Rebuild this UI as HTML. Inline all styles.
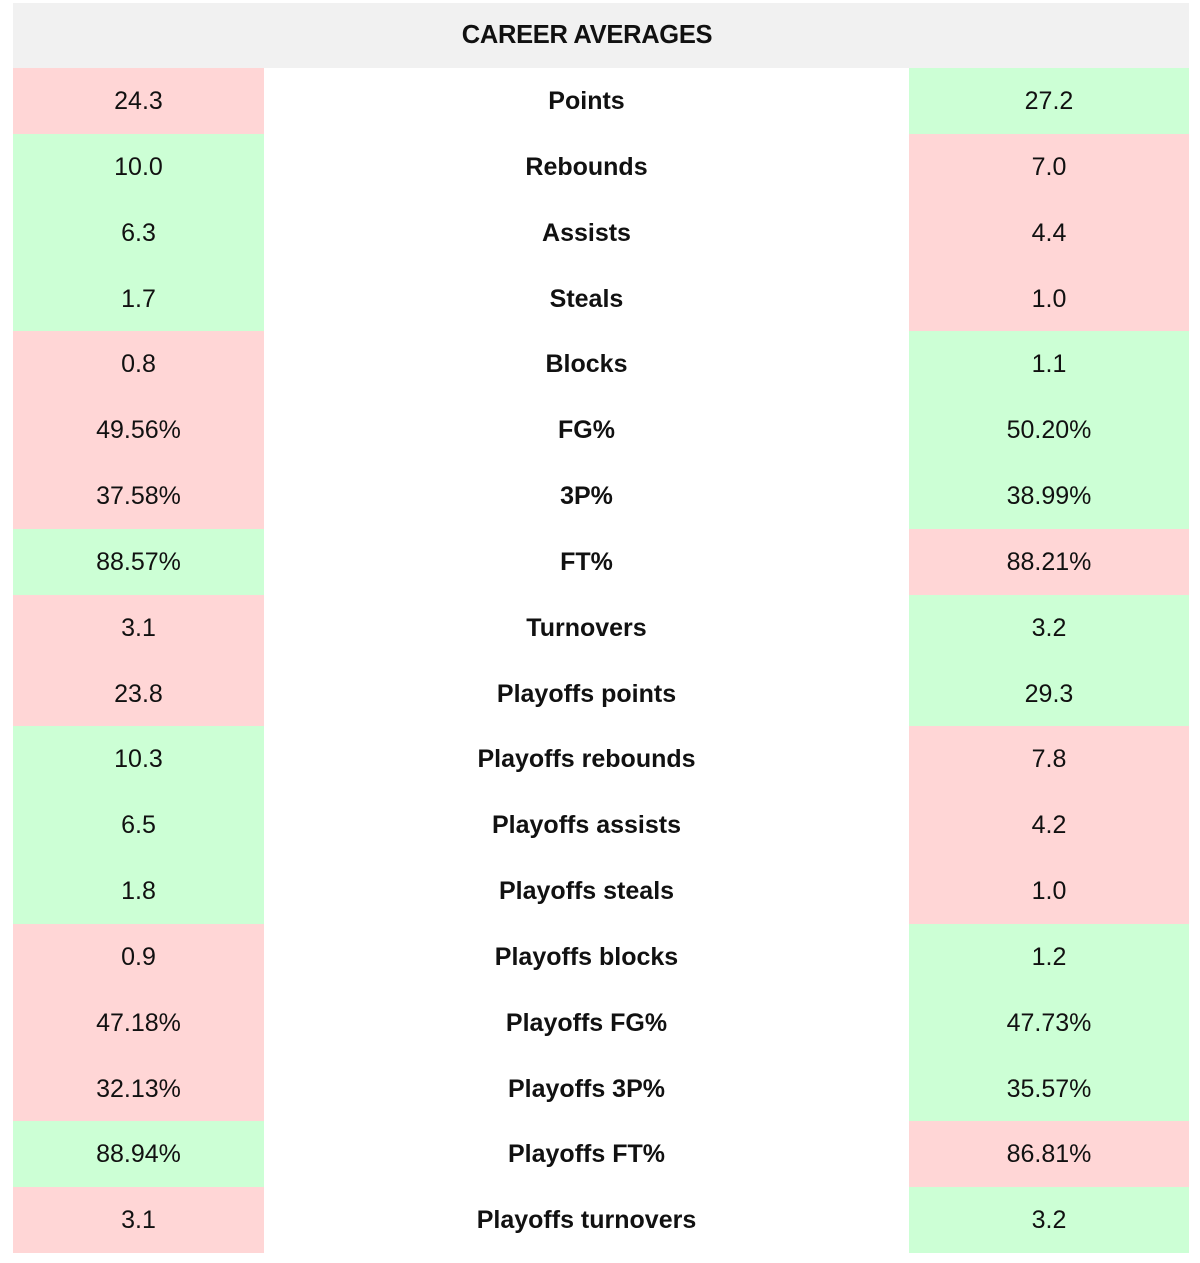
<!DOCTYPE html>
<html><head><style>
body{margin:0;width:1200px;height:1263px;background:#fff;position:relative;font-family:"Liberation Sans",Arial,sans-serif;color:#111;overflow:hidden}
.h{position:absolute;left:13px;top:3px;width:1176px;height:65px;background:#f1f1f1;display:flex;align-items:center;justify-content:center;font-size:25.5px;font-weight:bold;letter-spacing:-0.3px;padding-right:28px;box-sizing:border-box}
.c{position:absolute;display:flex;align-items:center;justify-content:center;font-size:25px;padding-top:1px;box-sizing:border-box}
.l{left:13px;width:251px}.m{left:264px;width:645px;font-weight:bold}.r{left:909px;width:280px}
.p{background:#ffd6d6}.g{background:#ccffd5}
</style></head><body>
<div class="h">CAREER AVERAGES</div>
<div id="t"></div>
<script>
var d=[["24.3","Points","27.2",0],["10.0","Rebounds","7.0",1],["6.3","Assists","4.4",1],["1.7","Steals","1.0",1],["0.8","Blocks","1.1",0],["49.56%","FG%","50.20%",0],["37.58%","3P%","38.99%",0],["88.57%","FT%","88.21%",1],["3.1","Turnovers","3.2",0],["23.8","Playoffs points","29.3",0],["10.3","Playoffs rebounds","7.8",1],["6.5","Playoffs assists","4.2",1],["1.8","Playoffs steals","1.0",1],["0.9","Playoffs blocks","1.2",0],["47.18%","Playoffs FG%","47.73%",0],["32.13%","Playoffs 3P%","35.57%",0],["88.94%","Playoffs FT%","86.81%",1],["3.1","Playoffs turnovers","3.2",0]];
var h="",rh=1185/18;
d.forEach(function(r,i){var t=Math.round(68+i*rh),b=Math.round(68+(i+1)*rh),ht=b-t;
var lc=r[3]?"g":"p",rc=r[3]?"p":"g";
h+='<div class="c l '+lc+'" style="top:'+t+'px;height:'+ht+'px">'+r[0]+'</div>';
h+='<div class="c m" style="top:'+t+'px;height:'+ht+'px">'+r[1]+'</div>';
h+='<div class="c r '+rc+'" style="top:'+t+'px;height:'+ht+'px">'+r[2]+'</div>';});
document.getElementById("t").innerHTML=h;
</script>
</body></html>
